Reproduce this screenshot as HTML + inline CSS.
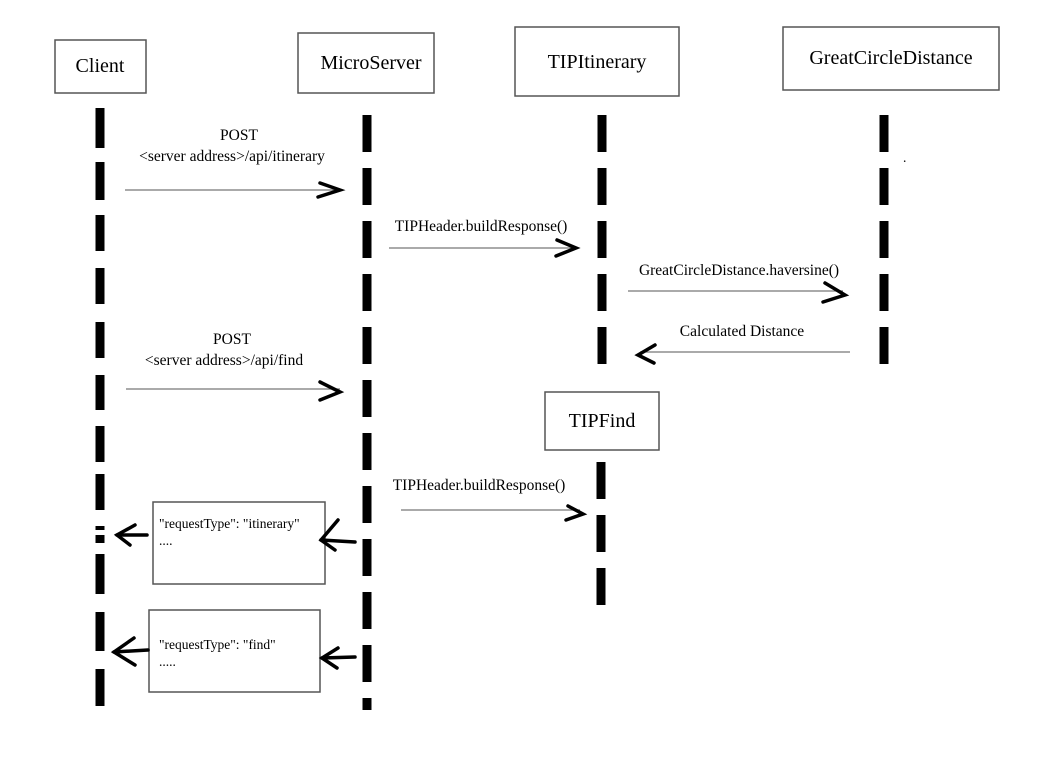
<!DOCTYPE html>
<html><head><style>body{margin:0;background:#fff}svg{display:block}</style></head><body>
<svg width="1044" height="773" xmlns="http://www.w3.org/2000/svg" font-family="Liberation Serif, serif">
<g fill="none" stroke="#555" stroke-width="1.5">
<rect x="55" y="40" width="91" height="53"/>
<rect x="298" y="33" width="136" height="60"/>
<rect x="515" y="27" width="164" height="69"/>
<rect x="783" y="27" width="216" height="63"/>
<rect x="545" y="392" width="114" height="58"/>
<rect x="153" y="502" width="172" height="82"/>
<rect x="149" y="610" width="171" height="82"/>
</g>
<g font-size="20" fill="#000" text-anchor="middle">
<text x="100" y="72">Client</text>
<text x="371" y="69">MicroServer</text>
<text x="597" y="68">TIPItinerary</text>
<text x="891" y="64">GreatCircleDistance</text>
<text x="602" y="427">TIPFind</text>
</g>
<g stroke="#000" stroke-width="9">
<line x1="100" y1="108" x2="100" y2="530" stroke-dasharray="40 14 38 15 36 17 36 18 36 17 35 16 36 12 36 16"/>
<line x1="100" y1="535" x2="100" y2="543"/>
<line x1="100" y1="554" x2="100" y2="706" stroke-dasharray="40 18 39 18"/>
<line x1="367" y1="115" x2="367" y2="710" stroke-dasharray="37 16"/>
<line x1="602" y1="115" x2="602" y2="372" stroke-dasharray="37 16"/>
<line x1="884" y1="115" x2="884" y2="372" stroke-dasharray="37 16"/>
<line x1="601" y1="462" x2="601" y2="612" stroke-dasharray="37 16"/>
</g>
<g stroke="#777" stroke-width="1.2">
<line x1="125" y1="190" x2="340" y2="190"/>
<line x1="389" y1="248" x2="575" y2="248"/>
<line x1="628" y1="291" x2="843" y2="291"/>
<line x1="640" y1="352" x2="850" y2="352"/>
<line x1="126" y1="389" x2="340" y2="389"/>
<line x1="401" y1="510" x2="580" y2="510"/>
</g>
<g stroke="#000" stroke-width="3.5" fill="none" stroke-linecap="round">
<polyline points="320,183 340,190 318,197"/>
<polyline points="557,240 576,248 556,256"/>
<polyline points="825,283 845,295 823,302"/>
<polyline points="655,345 638,355 654,363"/>
<polyline points="320,382 340,392 320,400"/>
<polyline points="568,506 583,514 566,520"/>
<polyline points="135,525 117,535 130,545"/><line x1="117" y1="535" x2="147" y2="535"/>
<polyline points="338,520 321,540 335,550"/><line x1="321" y1="540" x2="355" y2="542"/>
<polyline points="134,638 114,652 135,665"/><line x1="114" y1="652" x2="148" y2="650"/>
<polyline points="338,648 322,658 337,668"/><line x1="322" y1="658" x2="355" y2="657"/>
</g>
<g font-size="15.5" fill="#000" text-anchor="middle">
<text x="239" y="140">POST</text>
<text x="232" y="161">&lt;server  address&gt;/api/itinerary</text>
<text x="481" y="231">TIPHeader.buildResponse()</text>
<text x="739" y="275">GreatCircleDistance.haversine()</text>
<text x="742" y="336">Calculated  Distance</text>
<text x="232" y="344">POST</text>
<text x="224" y="365">&lt;server  address&gt;/api/find</text>
<text x="479" y="490">TIPHeader.buildResponse()</text>
</g>
<g font-size="13.5" fill="#000">
<text x="159" y="528">"requestType":  "itinerary"</text>
<text x="159" y="545">....</text>
<text x="159" y="649">"requestType":  "find"</text>
<text x="159" y="666">.....</text>
<text x="903" y="162">.</text>
</g>
</svg>
</body></html>
